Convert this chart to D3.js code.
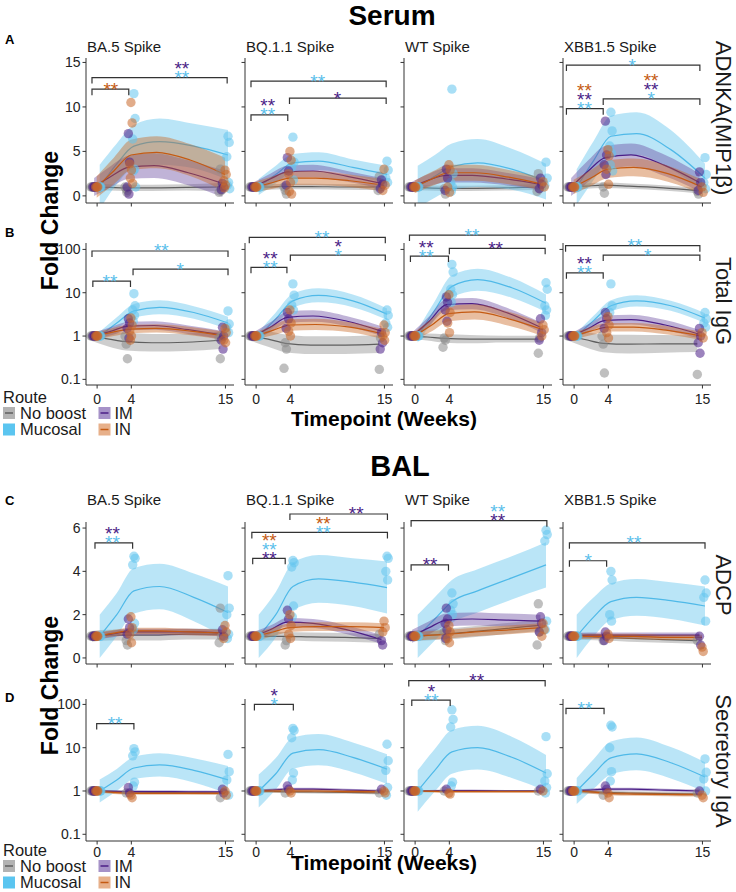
<!DOCTYPE html>
<html><head><meta charset="utf-8">
<script src="https://cdn.jsdelivr.net/npm/d3@7"></script>
<style>
body{margin:0;background:#fff}
svg{display:block}
text{font-family:"Liberation Sans",Arial,Helvetica,sans-serif}
</style>
</head><body>
<svg id="chart" width="736" height="892"></svg>
<script>
// ---------------- DATA ----------------
const routes = ["No boost", "Mucosal", "IM", "IN"];
const antigens = ["BA.5 Spike", "BQ.1.1 Spike", "WT Spike", "XBB1.5 Spike"];
const readouts = ["ADNKA(MIP1β)", "Total IgG", "ADCP", "Secretory IgA"];
const timepoints = [0, 4, 15];
const knots = [0, 2, 4, 7, 11, 15];          // weeks at which the smooth fits were read
const ticksA = [0, 5, 10, 15];
const ticksLog = [0.1, 1, 10, 100];
const ticksC = [0, 2, 4, 6];
const baselineFC = [1, 1, 1, 1];             // week-0 fold change (normalised)

// fits: [antigen][route] -> values at knots ; route order: No boost, Mucosal, IM, IN
const adnkaFit = [
  [[1,0.95,0.9,0.9,0.95,1.0],[1,3.6,5.6,6.1,5.6,4.6],[1,2.2,3.2,3.4,2.6,1.4],[1,2.8,4.6,4.9,4.0,2.4]],
  [[1,1.0,1.05,1.05,1.0,1.0],[1,2.4,3.7,3.9,3.2,2.4],[1,1.9,2.7,2.8,2.2,1.4],[1,1.5,2.0,2.0,1.7,1.2]],
  [[1,0.9,0.85,0.85,0.9,1.0],[1,2.2,3.3,3.7,3.0,1.6],[1,1.8,2.3,2.3,1.9,1.3],[1,1.9,2.6,2.6,2.1,1.3]],
  [[1,1.1,1.2,1.1,0.9,0.6],[1,4.0,6.7,7.0,5.2,2.0],[1,2.8,4.3,4.6,3.4,1.5],[1,2.0,3.0,3.2,2.5,1.0]]
];
const adnkaBand = [   // half width of ribbon
  [[0.4,0.35,0.35,0.35,0.35,0.45],[2.5,2.3,2.4,2.6,2.5,2.8],[1.0,1.2,1.3,1.4,1.4,1.5],[1.2,1.5,1.7,1.8,1.8,1.9]],
  [[0.3,0.3,0.3,0.3,0.3,0.35],[0.9,1.0,1.0,1.0,0.9,1.0],[0.5,0.6,0.7,0.7,0.6,0.6],[0.6,0.7,0.8,0.8,0.7,0.7]],
  [[0.3,0.3,0.3,0.3,0.3,0.35],[2.4,2.4,2.6,2.7,2.3,2.0],[0.6,0.7,0.8,0.8,0.7,0.6],[0.7,0.8,0.9,0.9,0.8,0.7]],
  [[0.3,0.3,0.3,0.3,0.3,0.3],[2.0,2.2,2.3,2.4,2.2,1.6],[1.0,1.2,1.3,1.3,1.2,1.0],[0.8,0.9,1.0,1.0,0.9,0.8]]
];
// points: [antigen][route] -> [week4 values, week15 values]
const adnkaPts = [
  [[[0.8,0.6,1.0,0.4],[3.0,0.6,0.4,1.0]],[[11.5,8.7,6.4,3.0,2.8,1.0],[6.7,6.0,4.4,1.5,1.2,0.8]],[[7.0,3.8,1.0,0.2],[1.4,1.0,0.7]],[[10.5,8.2,3.6,2.9,2.0,1.4],[2.9,2.4,1.7,1.2,0.9]]],
  [[[0.6,0.2,1.0],[2.2,1.0,0.6]],[[6.6,3.8,3.2,1.8],[3.9,2.9,2.0,1.5]],[[4.3,2.8,1.2],[1.8,1.3,0.8]],[[5.0,4.0,2.5,1.5,0.5,0.2],[3.0,1.2,0.6]]],
  [[[0.8,0.2],[2.5,0.8,0.5]],[[12.0,2.5,1.5,1.0,0.5],[3.8,2.0,1.2]],[[3.0,2.0,0.6],[2.0,1.3,0.8]],[[3.5,2.9,1.0,0.4],[1.6,1.0]]],
  [[[1.0,0.3],[0.5,0.2]],[[9.4,7.3,5.6,4.8,3.5,2.8],[4.3,2.4,1.5,0.8]],[[8.4,4.6,3.5,2.4],[2.7,1.5,0.6]],[[5.2,4.5,3.0,1.3],[1.0,0.4]]]
];
// significance: antigen, bracket from/to (weeks), height (data units), star x (weeks), stars bottom-up [text, route]
const adnkaSig = [
  [0,-0.6,15.2,13.3,9.9,[["**",1],["**",2]]],
  [0,-0.6,3.7,12.0,1.6,[["**",3]]],
  [1,-0.6,15.2,12.9,7.2,[["**",1]]],
  [1,3.9,15.2,11.0,9.5,[["*",2]]],
  [1,-0.6,3.7,9.1,1.35,[["**",1],["**",2]]],
  [3,-0.9,14.7,14.7,6.8,[["*",1]]],
  [3,3.4,14.7,10.9,9.0,[["*",1],["**",2],["**",3]]],
  [3,-0.9,3.4,9.8,1.2,[["**",1],["**",2],["**",3]]]
];

const iggFit = [
  [[1,0.85,0.74,0.7,0.72,0.8],[1,2.0,3.8,4.6,3.5,2.0],[1,1.3,1.7,1.75,1.4,1.05],[1,1.25,1.45,1.5,1.3,1.0]],
  [[1,0.85,0.68,0.62,0.62,0.65],[1,2.5,6.5,8.7,6.5,3.2],[1,1.6,2.7,2.9,2.2,1.3],[1,1.35,1.8,1.85,1.6,1.1]],
  [[1,0.95,0.88,0.85,0.85,0.85],[1,4,14,20,13,5.7],[1,2.2,5.3,5.6,3.5,1.6],[1,1.8,3.3,3.6,2.5,1.4]],
  [[1,0.82,0.68,0.65,0.66,0.66],[1,2.3,5,6.5,5,2.6],[1,1.5,2.3,2.4,1.8,1.1],[1,1.3,1.6,1.6,1.35,1.0]]
];
const iggBand = [   // multiplicative ribbon factor
  [[1.3,1.5,1.6,1.6,1.6,1.6],[1.25,1.35,1.45,1.45,1.4,1.4],[1.2,1.25,1.25,1.25,1.25,1.25],[1.2,1.25,1.25,1.25,1.25,1.25]],
  [[1.3,1.5,1.6,1.6,1.6,1.6],[1.25,1.4,1.45,1.45,1.4,1.35],[1.2,1.3,1.35,1.35,1.3,1.3],[1.2,1.3,1.35,1.35,1.3,1.3]],
  [[1.15,1.2,1.25,1.25,1.2,1.2],[1.4,1.6,1.8,1.8,1.7,1.6],[1.2,1.3,1.35,1.35,1.3,1.3],[1.25,1.4,1.5,1.5,1.45,1.4]],
  [[1.3,1.5,1.6,1.65,1.6,1.55],[1.2,1.3,1.35,1.35,1.3,1.3],[1.15,1.25,1.3,1.3,1.3,1.25],[1.2,1.25,1.25,1.25,1.25,1.25]]
];
const iggPts = [
  [[[0.65,0.3,1.0],[0.3,1.0,0.9]],[[9.5,5.0,4.0,3.0,2.2],[3.8,1.9,1.6,1.2]],[[2.5,2.0,1.5,0.9],[1.6,1.0,0.8,0.5]],[[2.6,1.8,1.3,1.0,0.8],[1.5,1.2,0.8,0.7]]],
  [[[0.7,0.5,0.18],[0.17,0.9]],[[16,8.8,5.2,4.0],[4.0,3.0,2.0,1.6]],[[3.5,2.5,1.5],[1.2,0.7,0.5]],[[4.0,2.0,1.3,1.0],[1.8,1.2,1.0,0.8]]],
  [[[0.9,0.8,0.55],[0.4,0.9]],[[45,30,12,9,6],[17,12,5,4,3]],[[8,6,4,2.2],[2.5,1.2,0.8]],[[9,3.5,2,1.2],[1.8,1.4,1.0]]],
  [[[0.65,0.14,1.0],[0.13]],[[16,5,3.5],[3.5,2.5,2.0,1.6]],[[3.5,2.5,1.5],[1.5,1.0,0.7,0.4]],[[2.8,1.8,1.2,0.9],[1.2,0.9]]]
];
const iggSig = [
  [0,-0.6,15.3,92,7.5,[["**",1]]],
  [0,4.2,15.3,35,9.7,[["*",1]]],
  [0,-0.5,3.9,18.6,1.5,[["**",1]]],
  [1,-0.8,15.1,190,7.7,[["**",1]]],
  [1,4.0,15.1,74,9.6,[["*",1],["*",2]]],
  [1,-0.6,3.6,38.6,1.65,[["**",1],["**",2]]],
  [2,-0.66,15.2,214,6.65,[["**",1]]],
  [2,4.0,15.2,106,9.4,[["**",2]]],
  [2,-0.55,3.9,70,1.3,[["**",1],["**",2]]],
  [3,-1.0,14.7,122,7.1,[["**",1]]],
  [3,3.4,14.7,74,8.6,[["*",1]]],
  [3,-0.9,3.4,28.8,1.2,[["**",1],["**",2]]]
];

const adcpFit = [
  [[1,1.05,1.05,1.05,1.1,1.1],[1,2.0,3.1,3.3,2.8,2.1],[1,1.1,1.2,1.2,1.2,1.15],[1,1.15,1.25,1.25,1.2,1.15]],
  [[1,1.0,1.0,0.97,0.95,0.9],[1,2.0,3.3,3.65,3.5,3.25],[1,1.3,1.65,1.6,1.3,0.85],[1,1.2,1.4,1.45,1.45,1.4]],
  [[1,1.05,1.1,1.2,1.35,1.5],[1,1.8,2.6,3.1,3.7,4.3],[1,1.4,1.75,1.8,1.75,1.7],[1,1.05,1.1,1.2,1.3,1.4]],
  [[1,0.98,0.95,0.9,0.85,0.8],[1,1.9,2.6,2.8,2.65,2.4],[1,1.05,1.05,1.05,1.05,1.05],[1,1.0,1.0,1.0,0.95,0.95]]
];
const adcpBand = [
  [[0.25,0.25,0.25,0.25,0.25,0.25],[1.0,1.0,1.05,1.05,1.1,1.2],[0.15,0.15,0.15,0.15,0.15,0.15],[0.15,0.15,0.15,0.15,0.15,0.15]],
  [[0.2,0.2,0.2,0.2,0.2,0.2],[1.0,1.05,1.1,1.1,1.1,1.2],[0.2,0.2,0.2,0.2,0.2,0.2],[0.2,0.2,0.2,0.2,0.2,0.2]],
  [[0.25,0.25,0.25,0.25,0.25,0.25],[1.0,1.0,1.0,1.0,1.0,1.05],[0.3,0.3,0.3,0.3,0.3,0.3],[0.2,0.2,0.2,0.2,0.2,0.2]],
  [[0.15,0.15,0.15,0.15,0.15,0.15],[1.0,0.9,0.85,0.85,0.85,0.9],[0.12,0.12,0.12,0.12,0.12,0.12],[0.12,0.12,0.12,0.12,0.12,0.12]]
];
const adcpPts = [
  [[[0.8,0.6],[2.3,1.0,0.7]],[[4.7,4.6,4.3,1.6,1.3],[3.8,2.3,2.0,1.1,0.9]],[[1.8,1.4,1.1],[1.3,1.0]],[[1.9,1.4,1.1,0.7],[1.5,1.2,0.9]]],
  [[[0.6,0.8],[1.1]],[[4.5,4.4,4.2,2.4,1.9],[4.7,4.6,4.0,3.6]],[[2.2,1.8],[0.8,0.6]],[[2.0,1.5,1.1,0.9],[1.7,1.4,1.2]]],
  [[[1.2,0.8],[2.5,1.2,0.6]],[[3.0,2.5,2.2,2.0],[5.9,5.7,5.4,1.7,1.3]],[[2.3,1.8,1.6,1.3,0.9],[1.9,1.6,1.2]],[[1.5,1.2,0.9,0.7],[1.6,1.3,1.0]]],
  [[[0.8],[0.8]],[[4.0,3.6,2.0,1.7],[3.6,3.0,2.8,1.7]],[[1.2,1.0,0.8],[1.0,0.6]],[[1.1,0.9],[0.5,0.3]]]
];
const adcpSig = [
  [0,-0.25,4.15,5.32,1.8,[["**",1],["**",2]]],
  [1,3.95,15.35,6.65,11.7,[["**",2]]],
  [1,-0.5,15.35,5.8,7.85,[["**",1],["**",3]]],
  [1,-0.4,3.4,4.6,1.55,[["**",2],["**",1],["**",3]]],
  [2,-0.47,15.4,6.34,9.65,[["**",2],["**",1]]],
  [2,-0.47,3.9,4.3,1.75,[["**",2]]],
  [3,-0.55,15.3,5.32,7.0,[["**",1]]],
  [3,-0.55,3.8,4.49,1.65,[["*",1]]]
];

const sigaFit = [
  [[1,0.97,0.95,0.93,0.92,0.9],[1,1.8,3.4,4.0,3.0,1.8],[1,0.98,0.97,0.97,0.96,0.95],[1,0.92,0.88,0.88,0.88,0.88]],
  [[1,0.98,0.97,0.95,0.93,0.9],[1,2.5,7.5,9.0,6.0,3.2],[1,1.05,1.1,1.1,1.05,1.0],[1,1.0,1.0,1.0,0.97,0.95]],
  [[1,1,1,1,1,1],[1,3,8,10,6,2.6],[1,1.0,1.02,1.02,1.0,1.0],[1,0.98,0.97,0.97,0.97,0.97]],
  [[1,0.97,0.93,0.9,0.87,0.85],[1,2.5,5.8,7.2,4.5,2.1],[1,1.05,1.1,1.1,1.05,1.0],[1,0.95,0.88,0.85,0.83,0.82]]
];
const sigaBand = [
  [[1.08,1.08,1.08,1.08,1.08,1.08],[1.85,1.8,1.8,1.85,1.9,2.1],[1.07,1.07,1.07,1.07,1.07,1.07],[1.08,1.08,1.08,1.08,1.08,1.08]],
  [[1.08,1.08,1.08,1.08,1.08,1.08],[2.4,2.3,2.3,2.3,2.2,2.2],[1.08,1.08,1.08,1.08,1.08,1.08],[1.08,1.08,1.08,1.08,1.08,1.08]],
  [[1.06,1.06,1.06,1.06,1.06,1.06],[3.0,3.1,3.2,3.2,3.0,2.6],[1.06,1.06,1.06,1.06,1.06,1.06],[1.06,1.06,1.06,1.06,1.06,1.06]],
  [[1.1,1.1,1.1,1.1,1.1,1.1],[2.0,2.2,2.4,2.4,2.3,2.2],[1.08,1.08,1.08,1.08,1.08,1.08],[1.1,1.1,1.1,1.1,1.1,1.1]]
];
const sigaPts = [
  [[[0.9],[0.7]],[[9.5,8.0,6.5,1.6,1.3],[7.0,2.8,1.8,0.8]],[[1.2,0.9],[1.1,0.9]],[[0.8,0.7],[1.0,0.8]]],
  [[[0.9],[0.9]],[[28,25,17,2.6,1.8],[12,5,3,1.2,0.8]],[[1.3,1.1],[1.1]],[[1.0,0.9],[1.0,0.9]]],
  [[[1.0],[1.0]],[[75,45,30,1.6,1.3],[18,2.5,1.7,1.2,0.9]],[[1.1],[1.1]],[[0.9,0.85],[1.0]]],
  [[[0.8],[0.9]],[[33,30,10,2.8,1.7],[5.5,2.7,1.9,1.0]],[[1.3,1.1],[1.0]],[[0.9,0.7],[0.8,0.7]]]
];
const sigaSig = [
  [0,-0.05,4.3,36,2.1,[["**",1]]],
  [1,-0.2,4.35,100,2.1,[["*",1],["*",2]]],
  [2,-0.74,15.2,355,7.2,[["**",2]]],
  [2,-0.39,4.1,126,1.9,[["**",1],["*",2]]],
  [3,-0.95,3.5,81,1.27,[["**",1]]]
];

// ---------------- STYLE / LAYOUT ----------------
const lineCol = ["#5f5f5f", "#4fb9e8", "#4b1e87", "#c45a12"];
const ribCol  = ["#8a8a8a", "#5bc0eb", "#6a4aa0", "#c8641e"];
const ptCol   = ["#8a8a8a", "#63c4ee", "#4b1e87", "#c8682a"];
const starCol = ["#5f5f5f", "#5bc0eb", "#4b1e87", "#c45a12"];
const swatchFill = ["#b3b3b3", "#5bc5f0", "#a692c8", "#e7b08a"];
const drawOrder = [0, 1, 2, 3];
const dodge = [-0.6, 0.3, -0.35, -0.05];
const jit = [0, 0.14, -0.14, 0.07, -0.07, 0.2];
const colLeft = [86, 245, 404, 563];
const panelW = 148;

const rows = [
  {fit: adnkaFit, band: adnkaBand, pts: adnkaPts, sig: adnkaSig, log: false, top: 58, bottom: 203, dom: [-0.8, 15.5], ticks: ticksA, xlab: null, strip: 52, letter: "A", letterY: 44, rlabel: readouts[0], rlabelY: 118},
  {fit: iggFit, band: iggBand, pts: iggPts, sig: iggSig, log: true, top: 243, bottom: 385, dom: [Math.pow(10,-1.13), Math.pow(10,2.148)], ticks: ticksLog, xlab: 404, strip: null, letter: "B", letterY: 237, rlabel: readouts[1], rlabelY: 301},
  {fit: adcpFit, band: adcpBand, pts: adcpPts, sig: adcpSig, log: false, top: 522, bottom: 664, dom: [-0.28, 6.28], ticks: ticksC, xlab: null, strip: 505, letter: "C", letterY: 505, rlabel: readouts[2], rlabelY: 585},
  {fit: sigaFit, band: sigaBand, pts: sigaPts, sig: sigaSig, log: true, top: 699, bottom: 841, dom: [Math.pow(10,-1.155), Math.pow(10,2.125)], ticks: ticksLog, xlab: 857, strip: null, letter: "D", letterY: 702, rlabel: readouts[3], rlabelY: 761}
];

const svg = d3.select("#chart");
const defs = svg.append("defs");
const curve = d3.curveMonotoneX;

rows.forEach((row, ri) => {
  antigens.forEach((ag, ci) => {
    const left = colLeft[ci];
    const x = d3.scaleLinear().domain([-1.3, 16.0]).range([left, left + panelW]);
    const y = (row.log ? d3.scaleLog() : d3.scaleLinear()).domain(row.dom).range([row.bottom, row.top]);
    const clipId = `clip${ri}_${ci}`;
    defs.append("clipPath").attr("id", clipId).append("rect")
      .attr("x", left).attr("y", row.top).attr("width", panelW).attr("height", row.bottom - row.top);
    const g = svg.append("g");
    const gc = g.append("g").attr("clip-path", `url(#${clipId})`);

    // smooth ribbons + lines
    drawOrder.forEach(r => {
      const m = row.fit[ci][r], b = row.band[ci][r];
      const pts = knots.map((k, i) => {
        const bw = b[i];
        return {k: k + dodge[r], m: m[i], lo: row.log ? m[i] / bw : m[i] - bw, hi: row.log ? m[i] * bw : m[i] + bw};
      });
      const area = d3.area().x(d => x(d.k)).y0(d => y(d.lo)).y1(d => y(d.hi)).curve(curve);
      const line = d3.line().x(d => x(d.k)).y(d => y(d.m)).curve(curve);
      gc.append("path").attr("d", area(pts)).attr("fill", ribCol[r]).attr("fill-opacity", 0.42);
      gc.append("path").attr("d", line(pts)).attr("fill", "none").attr("stroke", lineCol[r]).attr("stroke-width", 1.2);
    });

    // points
    drawOrder.forEach(r => {
      const sets = [baselineFC, row.pts[ci][r][0], row.pts[ci][r][1]];
      sets.forEach((vals, ti) => {
        vals.forEach((v, j) => {
          g.append("circle")
            .attr("cx", x(timepoints[ti] + dodge[r] + jit[j % jit.length]))
            .attr("cy", y(v)).attr("r", 4.7)
            .attr("fill", ptCol[r]).attr("fill-opacity", 0.55);
        });
      });
    });

    // axes
    const axCol = "#333";
    g.append("line").attr("x1", left).attr("x2", left).attr("y1", row.top).attr("y2", row.bottom).attr("stroke", axCol).attr("stroke-width", 1);
    g.append("line").attr("x1", left).attr("x2", left + panelW).attr("y1", row.bottom).attr("y2", row.bottom).attr("stroke", axCol).attr("stroke-width", 1);
    row.ticks.forEach(t => {
      g.append("line").attr("x1", left - 3.5).attr("x2", left).attr("y1", y(t)).attr("y2", y(t)).attr("stroke", axCol);
      if (ci === 0) {
        g.append("text").attr("x", left - 5.5).attr("y", y(t)).attr("dy", "0.36em")
          .attr("text-anchor", "end").attr("font-size", 14).attr("fill", "#222").text(t);
      }
    });
    timepoints.forEach(t => {
      g.append("line").attr("x1", x(t)).attr("x2", x(t)).attr("y1", row.bottom).attr("y2", row.bottom + 3.5).attr("stroke", axCol);
      if (row.xlab) {
        g.append("text").attr("x", x(t)).attr("y", row.xlab).attr("text-anchor", "middle")
          .attr("font-size", 14).attr("fill", "#222").text(t);
      }
    });

    // strip title
    if (row.strip) {
      g.append("text").attr("x", left + 1).attr("y", row.strip).attr("font-size", 15).attr("fill", "#1a1a1a").text(ag);
    }

    // significance brackets
    row.sig.filter(s => s[0] === ci).forEach(s => {
      const [, x1, x2, yv, lx, stars] = s;
      const yy = y(yv);
      g.append("path").attr("d", `M${x(x1)},${yy + 6}V${yy}H${x(x2)}V${yy + 6}`)
        .attr("fill", "none").attr("stroke", "#333").attr("stroke-width", 1.2);
      const t = g.append("text").attr("text-anchor", "middle").attr("font-size", 19);
      stars.forEach((st, k) => {
        t.append("tspan").attr("x", x(lx)).attr("y", yy + 6.5 - k * 9)
          .attr("fill", starCol[st[1]]).text(st[0]);
      });
    });
  });

  // row letter
  svg.append("text").attr("x", 5).attr("y", row.letterY).attr("font-size", 13).attr("font-weight", "bold").text(row.letter);
  // right strip label
  svg.append("text").attr("transform", `translate(716,${row.rlabelY}) rotate(90)`)
    .attr("text-anchor", "middle").attr("font-size", 22).attr("fill", "#1a1a1a").text(row.rlabel);
});

// titles
svg.append("text").attr("x", 392).attr("y", 25).attr("text-anchor", "middle").attr("font-size", 28).attr("font-weight", "bold").text("Serum");
svg.append("text").attr("x", 400).attr("y", 476).attr("text-anchor", "middle").attr("font-size", 29).attr("font-weight", "bold").text("BAL");

// axis titles
[220.5, 685.5].forEach(cy => {
  svg.append("text").attr("transform", `translate(57.5,${cy}) rotate(-90)`).attr("text-anchor", "middle")
    .attr("font-size", 23).attr("font-weight", "bold").text("Fold Change");
});
[426, 870].forEach(by => {
  svg.append("text").attr("x", 384).attr("y", by).attr("text-anchor", "middle")
    .attr("font-size", 21).attr("font-weight", "bold").text("Timepoint (Weeks)");
});

// legends
const legendItems = [[0, 0, 0], [1, 0, 1], [2, 1, 0], [3, 1, 1]]; // route, column, row
[403, 856].forEach(ly => {
  svg.append("text").attr("x", 3).attr("y", ly).attr("font-size", 16.5).attr("fill", "#1a1a1a").text("Route");
  legendItems.forEach(([r, c, rr]) => {
    const sx = c === 0 ? 3 : 98.5, sy = ly + 4 + rr * 16.5;
    svg.append("rect").attr("x", sx).attr("y", sy).attr("width", 12).attr("height", 12).attr("fill", swatchFill[r]);
    svg.append("line").attr("x1", sx + 2).attr("x2", sx + 10).attr("y1", sy + 6).attr("y2", sy + 6)
      .attr("stroke", r === 1 ? swatchFill[1] : lineCol[r]).attr("stroke-width", 1.5);
    svg.append("text").attr("x", sx + (c === 0 ? 17 : 16)).attr("y", sy + 11.5).attr("font-size", 16.5)
      .attr("fill", "#1a1a1a").text(routes[r]);
  });
});
</script>
</body></html>
